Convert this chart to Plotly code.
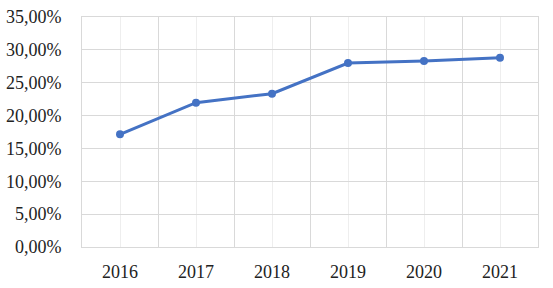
import plotly.graph_objects as go

years = [2016, 2017, 2018, 2019, 2020, 2021]
values = [0.1715, 0.2196, 0.2333, 0.2800, 0.2830, 0.2880]
y_ticks = [0, 0.05, 0.10, 0.15, 0.20, 0.25, 0.30, 0.35]

font = dict(family="Liberation Serif", size=18, color="#222222")

fig = go.Figure()
fig.add_trace(go.Scatter(
    x=years, y=values, mode="lines+markers",
    line=dict(color="#4472C4", width=3),
    marker=dict(color="#4472C4", size=8),
    showlegend=False,
))

boundaries = [y - 0.5 for y in years] + [years[-1] + 0.5]

fig.update_layout(
    width=553, height=288,
    margin=dict(l=82, r=15, t=17, b=41),
    paper_bgcolor="white", plot_bgcolor="white",
    separators=", ",
    font=font,
    xaxis=dict(
        range=[years[0] - 0.5, years[-1] + 0.5],
        tickvals=years, ticktext=[str(y) for y in years],
        showgrid=True, gridcolor="#eeeeee", gridwidth=1,
        minor=dict(tickvals=boundaries, showgrid=True, gridcolor="#d9d9d9", gridwidth=1),
        showline=True, linecolor="#d9d9d9", linewidth=1, mirror=True,
        zeroline=False, ticks="", ticklabelstandoff=8,
        tickfont=font, automargin=False,
    ),
    yaxis=dict(
        range=[0, 0.35],
        tickvals=y_ticks, tickformat=".2%",
        showgrid=True, gridcolor="#d9d9d9", gridwidth=1,
        showline=True, linecolor="#d9d9d9", linewidth=1, mirror=True,
        zeroline=False, ticks="", ticklabelstandoff=16,
        tickfont=font, automargin=False,
    ),
)

fig.write_html(
    "out.html",
    config={"displayModeBar": False},
    post_script="document.body.style.margin='0';document.body.style.overflow='hidden';",
)
